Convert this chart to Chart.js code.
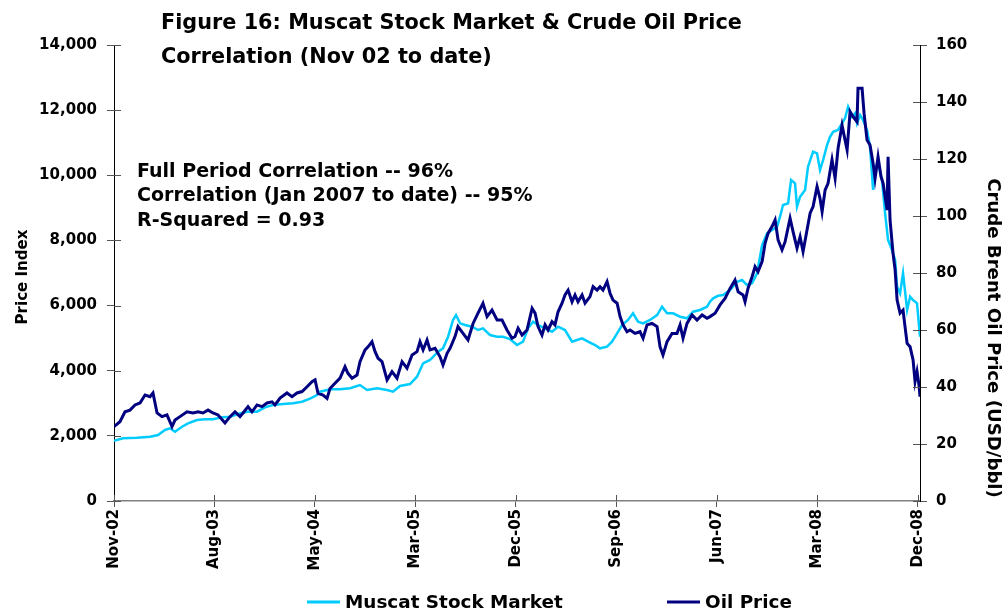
<!DOCTYPE html>
<html>
<head>
<meta charset="utf-8">
<script src="https://cdn.jsdelivr.net/npm/chart.js@4.4.0/dist/chart.umd.min.js"></script>
<style>
  html, body { margin: 0; padding: 0; background: #fff; }
  #wrap { width: 1007px; height: 614px; }
</style>
</head>
<body>
<div id="wrap"><canvas id="myChart" width="1007" height="614"></canvas></div>
<script>
// months since Nov-02 and values
var oilMonths = [0, 0.54, 1.0, 1.45, 1.91, 2.36, 2.82, 3.27, 3.54, 3.91, 4.36, 4.81, 5.27, 5.54, 5.99, 6.63, 7.18, 7.63, 8.08, 8.54, 8.99, 9.45, 10.08, 10.54, 10.99, 11.44, 11.72, 12.17, 12.53, 12.99, 13.44, 13.9, 14.35, 14.62, 15.08, 15.71, 16.17, 16.62, 17.08, 17.53, 17.98, 18.26, 18.53, 18.98, 19.35, 19.62, 20.07, 20.53, 20.98, 21.25, 21.62, 22.07, 22.34, 22.8, 23.07, 23.43, 23.71, 23.98, 24.34, 24.8, 25.25, 25.7, 26.16, 26.61, 27.07, 27.52, 27.79, 28.07, 28.43, 28.7, 29.16, 29.61, 29.88, 30.25, 30.52, 30.97, 31.24, 31.7, 32.15, 32.61, 33.06, 33.51, 33.88, 34.33, 34.79, 35.24, 35.69, 36.15, 36.42, 36.7, 37.06, 37.51, 37.97, 38.24, 38.51, 38.87, 39.15, 39.42, 39.78, 40.05, 40.33, 40.69, 40.96, 41.24, 41.6, 41.87, 42.14, 42.51, 42.78, 43.23, 43.51, 43.87, 44.14, 44.41, 44.78, 45.05, 45.32, 45.69, 45.96, 46.23, 46.59, 46.87, 47.32, 47.77, 48.05, 48.41, 48.86, 49.32, 49.59, 49.86, 50.23, 50.68, 51.13, 51.41, 51.68, 52.04, 52.5, 52.95, 53.41, 53.86, 54.13, 54.59, 55.04, 55.49, 55.95, 56.4, 56.68, 57.13, 57.31, 57.58, 57.95, 58.22, 58.49, 58.86, 59.13, 59.4, 59.76, 60.04, 60.31, 60.67, 60.95, 61.4, 61.67, 62.03, 62.31, 62.58, 62.94, 63.22, 63.49, 63.85, 64.12, 64.31, 64.58, 64.85, 65.21, 65.49, 65.76, 66.12, 66.39, 66.58, 66.85, 67.12, 67.48, 67.57, 67.94, 68.12, 68.39, 68.66, 68.94, 69.12, 69.39, 69.66, 69.85, 70.21, 70.3, 70.48, 70.75, 70.94, 71.12, 71.39, 71.66, 71.84, 72.03, 72.3, 72.57, 72.75, 72.93, 73.11, 73.2];
var oilPrice = [26.1, 27.8, 31.3, 31.9, 33.7, 34.4, 37.2, 36.6, 37.9, 30.9, 29.6, 30.2, 26.1, 28.4, 29.6, 31.3, 30.9, 31.3, 30.9, 31.9, 30.9, 30.2, 27.4, 29.6, 31.3, 29.6, 30.9, 33.1, 31.3, 33.7, 33.1, 34.4, 34.8, 33.7, 36.1, 37.9, 36.6, 37.9, 38.4, 40.1, 41.9, 42.5, 37.8, 37.2, 36.0, 39.5, 41.3, 43.1, 47.1, 44.8, 43.1, 44.2, 48.9, 53.0, 54.1, 55.9, 52.4, 50.1, 48.9, 42.5, 45.4, 43.1, 48.9, 46.6, 51.2, 52.4, 55.9, 53.0, 56.5, 53.0, 53.6, 50.6, 47.7, 51.8, 53.6, 57.7, 61.2, 58.8, 56.5, 62.3, 65.9, 69.4, 64.7, 67.0, 63.5, 63.5, 60.0, 57.1, 57.7, 60.6, 58.2, 60.0, 67.6, 65.9, 61.2, 58.2, 61.8, 60.0, 62.9, 61.8, 66.4, 69.4, 72.3, 74.0, 69.9, 72.3, 69.9, 72.3, 69.4, 71.7, 75.2, 74.0, 75.2, 74.0, 77.0, 72.9, 70.5, 69.4, 64.7, 61.8, 59.4, 60.0, 58.8, 59.4, 57.1, 61.8, 62.3, 61.2, 54.1, 51.2, 55.9, 58.8, 58.8, 61.8, 57.1, 62.3, 65.3, 63.5, 65.3, 64.1, 64.7, 65.9, 68.8, 71.1, 74.6, 77.5, 73.4, 72.3, 69.9, 74.6, 78.7, 82.2, 80.5, 84.0, 90.4, 93.9, 96.3, 98.6, 91.6, 88.1, 91.0, 99.2, 94.5, 88.7, 92.7, 87.5, 95.1, 101.0, 103.3, 110.3, 106.2, 101.5, 109.1, 111.5, 119.7, 113.2, 123.8, 131.9, 126.7, 123.2, 136.6, 134.9, 133.1, 144.8, 144.8, 136.0, 126.7, 124.9, 118.5, 113.2, 120.8, 113.8, 111.5, 102.1, 120.8, 98.6, 86.9, 81.1, 70.5, 65.9, 67.0, 61.2, 55.3, 54.1, 49.5, 41.9, 45.4, 40.7, 36.6];

var mktMonths = [0, 0.82, 2.09, 3.27, 4.0, 4.63, 5.09, 5.54, 6.18, 6.72, 7.54, 8.27, 8.99, 9.81, 10.54, 11.26, 12.08, 12.99, 13.71, 14.44, 15.35, 16.26, 17.08, 17.8, 18.44, 18.71, 19.62, 20.53, 21.44, 22.34, 22.98, 23.89, 24.8, 25.34, 25.98, 26.88, 27.52, 28.07, 28.7, 29.43, 29.88, 30.34, 30.79, 31.06, 31.43, 31.88, 32.52, 33.06, 33.51, 34.15, 34.79, 35.33, 35.97, 36.6, 37.15, 37.6, 38.06, 38.51, 39.15, 39.78, 40.33, 40.96, 41.6, 42.05, 42.51, 43.05, 43.69, 44.14, 44.78, 45.23, 45.69, 46.14, 46.68, 47.14, 47.59, 48.05, 48.68, 49.32, 49.77, 50.23, 50.77, 51.41, 52.04, 52.59, 53.22, 53.86, 54.13, 54.41, 54.86, 55.31, 55.95, 56.59, 57.04, 57.49, 57.95, 58.4, 58.86, 59.31, 59.76, 60.22, 60.49, 60.76, 61.22, 61.49, 61.85, 62.03, 62.31, 62.76, 63.03, 63.49, 63.85, 64.12, 64.4, 64.76, 65.03, 65.31, 65.76, 66.12, 66.39, 66.67, 67.03, 67.3, 67.48, 67.76, 68.03, 68.39, 68.66, 68.94, 69.12, 69.39, 69.75, 70.03, 70.3, 70.66, 70.94, 71.12, 71.39, 71.66, 72.03, 72.3, 72.57, 72.93, 73.2];
var mktIndex = [1851, 1925, 1943, 1974, 2026, 2180, 2232, 2128, 2281, 2385, 2487, 2508, 2508, 2570, 2588, 2671, 2742, 2742, 2876, 2947, 2978, 3000, 3048, 3140, 3254, 3356, 3429, 3429, 3460, 3561, 3408, 3460, 3408, 3356, 3530, 3592, 3816, 4227, 4329, 4584, 4688, 5044, 5557, 5710, 5455, 5403, 5351, 5250, 5302, 5096, 5044, 5044, 4970, 4789, 4891, 5302, 5505, 5403, 5302, 5198, 5351, 5250, 4891, 4943, 4995, 4891, 4789, 4688, 4737, 4891, 5148, 5403, 5557, 5762, 5505, 5455, 5557, 5710, 5965, 5762, 5762, 5658, 5609, 5812, 5864, 5965, 6119, 6223, 6300, 6324, 6478, 6733, 6785, 6631, 6683, 6990, 7859, 8218, 8320, 8421, 8728, 9087, 9139, 9855, 9753, 9035, 9342, 9548, 10263, 10724, 10674, 10162, 10469, 10929, 11184, 11337, 11390, 11594, 11749, 12105, 11798, 11902, 11594, 11850, 11697, 11390, 10877, 9548, 10263, 10366, 9855, 8832, 8013, 7706, 7399, 6579, 6376, 6990, 5864, 6273, 6171, 6069, 5044];

var xTickLabels = ['Nov-02', 'Aug-03', 'May-04', 'Mar-05', 'Dec-05', 'Sep-06', 'Jun-07', 'Mar-08', 'Dec-08'];
var xTickMonths = [0, 9.125, 18.25, 27.375, 36.5, 45.625, 54.75, 63.875, 73];

var titleLines = ['Figure 16: Muscat Stock Market & Crude Oil Price', 'Correlation (Nov 02 to date)'];
var noteLines = ['Full Period Correlation -- 96%', 'Correlation (Jan 2007 to date) -- 95%', 'R-Squared = 0.93'];

var FONT = '"DejaVu Sans", Verdana, sans-serif';

function pts(xs, ys) {
    return xs.map(function(x, i) { return { x: x, y: ys[i] }; });
}

// font size so that text gets a given width
function fitFont(ctx, text, width, base) {
    ctx.font = 'bold ' + base + 'px ' + FONT;
    var w = ctx.measureText(text).width;
    return base * width / w;
}

var extras = {
    id: 'extras',
    afterDraw: function(chart) {
        var ctx = chart.ctx;
        var area = chart.chartArea;
        ctx.save();
        ctx.fillStyle = '#000';

        // inner half of the tick marks
        ctx.strokeStyle = '#555';
        ctx.lineWidth = 1;
        chart.scales.y.ticks.forEach(function(t) {
            var py = Math.round(chart.scales.y.getPixelForValue(t.value)) + 0.5;
            ctx.beginPath(); ctx.moveTo(area.left, py); ctx.lineTo(area.left + 7, py); ctx.stroke();
        });
        chart.scales.y2.ticks.forEach(function(t) {
            var py = Math.round(chart.scales.y2.getPixelForValue(t.value)) + 0.5;
            ctx.beginPath(); ctx.moveTo(area.right - 7, py); ctx.lineTo(area.right, py); ctx.stroke();
        });
        chart.scales.x.ticks.forEach(function(t) {
            var px = Math.round(chart.scales.x.getPixelForValue(t.value)) + 0.5;
            ctx.beginPath(); ctx.moveTo(px, area.bottom - 6); ctx.lineTo(px, area.bottom); ctx.stroke();
        });

        // title
        ctx.textAlign = 'left';
        ctx.textBaseline = 'alphabetic';
        var ts = fitFont(ctx, titleLines[0], 581, 20);
        ctx.font = 'bold ' + ts + 'px ' + FONT;
        ctx.fillText(titleLines[0], 161, 29);
        ctx.fillText(titleLines[1], 161, 63);

        // correlation notes
        var ns = fitFont(ctx, noteLines[1], 396, 15);
        ctx.font = 'bold ' + ns + 'px ' + FONT;
        ctx.fillText(noteLines[0], 137, 177);
        ctx.fillText(noteLines[1], 137, 201);
        ctx.fillText(noteLines[2], 137, 226);

        // axis titles
        ctx.textAlign = 'center';
        ctx.textBaseline = 'middle';
        var ls = fitFont(ctx, 'Price Index', 95, 15);
        ctx.font = 'bold ' + ls + 'px ' + FONT;
        ctx.save();
        ctx.translate(23, 277);
        ctx.rotate(-Math.PI / 2);
        ctx.fillText('Price Index', 0, 0);
        ctx.restore();

        var rs = fitFont(ctx, 'Crude Brent Oil Price (USD/bbl)', 320, 16);
        ctx.font = 'bold ' + rs + 'px ' + FONT;
        ctx.save();
        ctx.translate(993, 338);
        ctx.rotate(Math.PI / 2);
        ctx.fillText('Crude Brent Oil Price (USD/bbl)', 0, 0);
        ctx.restore();

        // legend
        var ds = chart.data.datasets;
        var gs = fitFont(ctx, ds[0].label, 218, 16);
        ctx.font = 'bold ' + gs + 'px ' + FONT;
        ctx.textAlign = 'left';
        ctx.lineWidth = 3;
        [[307, 345], [667, 705]].forEach(function(p, i) {
            ctx.strokeStyle = ds[i].borderColor;
            ctx.beginPath(); ctx.moveTo(p[0], 602); ctx.lineTo(p[0] + 33, 602); ctx.stroke();
            ctx.fillText(ds[i].label, p[1], 603);
        });
        ctx.restore();
    }
};

var ctx = document.getElementById('myChart').getContext('2d');
var myChart = new Chart(ctx, {
    type: 'line',
    data: {
        datasets: [{
            label: 'Muscat Stock Market',
            data: pts(mktMonths, mktIndex),
            borderColor: '#00CCFF',
            borderWidth: 2.5,
            pointRadius: 0,
            yAxisID: 'y',
            order: 1
        }, {
            label: 'Oil Price',
            data: pts(oilMonths, oilPrice),
            borderColor: '#000080',
            borderWidth: 3,
            pointRadius: 0,
            yAxisID: 'y2',
            order: 0
        }]
    },
    options: {
        responsive: false,
        animation: false,
        layout: { padding: { top: 45, left: 0, right: 0, bottom: 0 } },
        plugins: {
            legend: { display: false },
            title: { display: false },
            tooltip: { enabled: false }
        },
        scales: {
            x: {
                type: 'linear',
                min: 0,
                max: 73.2,
                afterBuildTicks: function(axis) {
                    axis.ticks = xTickMonths.map(function(v) { return { value: v }; });
                },
                afterFit: function(scale) { scale.height = 113; },
                grid: { drawOnChartArea: false, tickLength: 6, color: '#555' },
                border: { color: '#808080', width: 1.5 },
                ticks: {
                    autoSkip: false,
                    maxRotation: 90,
                    minRotation: 90,
                    padding: 2,
                    color: '#000',
                    font: { family: FONT, size: 15, weight: 'bold' },
                    callback: function(value, index) { return xTickLabels[index]; }
                }
            },
            y: {
                position: 'left',
                min: 0,
                max: 14000,
                afterFit: function(scale) { scale.width = 114; },
                grid: { drawOnChartArea: false, tickLength: 7, color: '#555' },
                border: { color: '#000', width: 1 },
                ticks: {
                    stepSize: 2000,
                    padding: 10,
                    color: '#000',
                    font: { family: FONT, size: 15, weight: 'bold' },
                    callback: function(v) { return v.toLocaleString('en-US'); }
                }
            },
            y2: {
                position: 'right',
                min: 0,
                max: 160,
                afterFit: function(scale) { scale.width = 87; },
                grid: { drawOnChartArea: false, tickLength: 7, color: '#555' },
                border: { color: '#000', width: 1 },
                ticks: {
                    stepSize: 20,
                    padding: 9,
                    color: '#000',
                    font: { family: FONT, size: 15, weight: 'bold' }
                }
            }
        }
    },
    plugins: [extras]
});
</script>
</body>
</html>
